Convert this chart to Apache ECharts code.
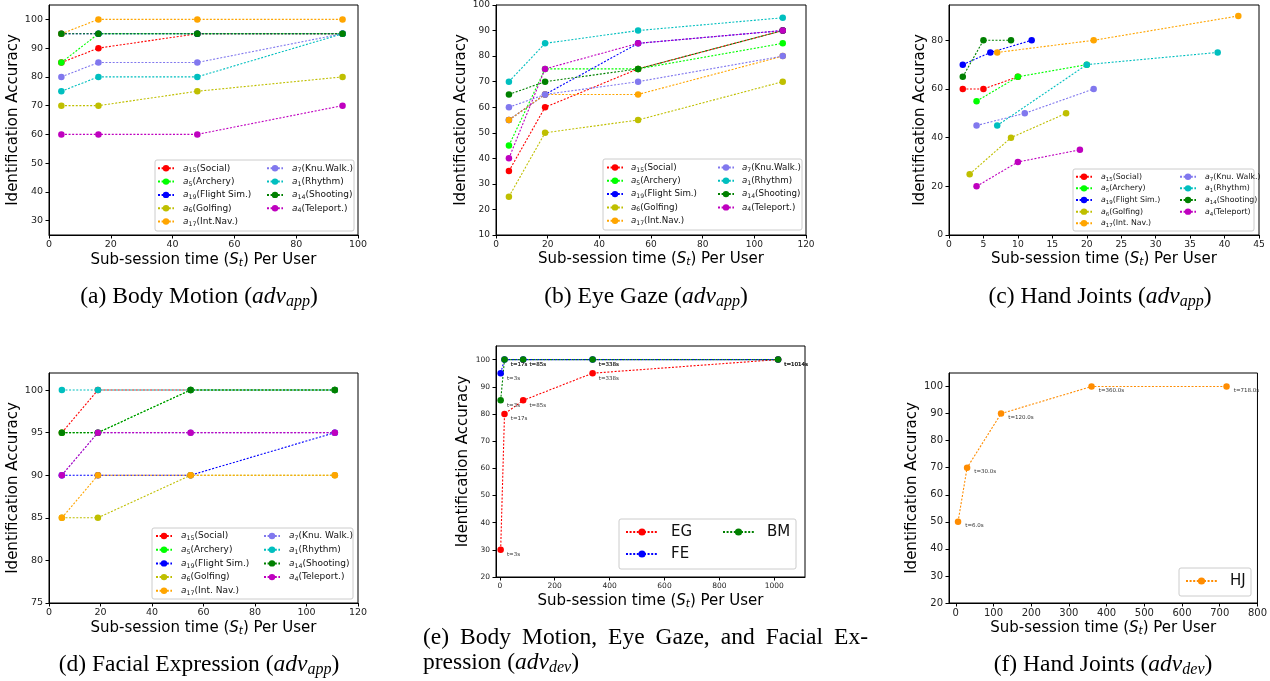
<!DOCTYPE html>
<html><head><meta charset="utf-8">
<script src="https://cdn.jsdelivr.net/npm/echarts@6/dist/echarts.min.js"></script>
<style>html,body{margin:0;padding:0;background:#fff}#c{width:1270px;height:681px}</style>
</head><body><div id="c"></div>
<script>
// ---------------- DATA ----------------
const actKeys   = ['15','5','19','6','17','7','1','14','4'];
const actNamesA = ['Social','Archery','Flight Sim.','Golfing','Int.Nav.','Knu.Walk.','Rhythm','Shooting','Teleport.'];
const actNamesC = ['Social','Archery','Flight Sim.','Golfing','Int. Nav.','Knu. Walk.','Rhythm','Shooting','Teleport'];
const actNamesD = ['Social','Archery','Flight Sim.','Golfing','Int. Nav.','Knu. Walk.','Rhythm','Shooting','Teleport.'];
const actColors = ['#ff0000','#00ff00','#0000ff','#bfbf00','#ffa500','#8178ee','#00bfbf','#008000','#bf00bf'];

// (a) Body Motion, adv_app
const bmTimes = [4, 16, 48, 95];
const bmAcc = [
  [85, 90, 95, 95],
  [85, 95, 95, 95],
  [95, 95, 95, 95],
  [70, 70, 75, 80],
  [95, 100, 100, 100],
  [80, 85, 85, 95],
  [75, 80, 80, 95],
  [95, 95, 95, 95],
  [60, 60, 60, 70]
];
// (b) Eye Gaze, adv_app
const egTimes = [5, 19, 55, 111];
const egAcc = [
  [35, 60, 75, 90],
  [45, 75, 75, 85],
  [55, 65, 85, 90],
  [25, 50, 55, 70],
  [55, 65, 65, 80],
  [60, 65, 70, 80],
  [70, 85, 90, 95],
  [65, 70, 75, 90],
  [40, 75, 85, 90]
];
// (c) Hand Joints, adv_app (per-activity times)
const hjTimes = [[2,5,10],[4,10,20],[2,6,12],[3,9,17],[7,21,42],[4,11,21],[7,20,39],[2,5,9],[4,10,19]];
const hjAcc   = [[60,60,65],[55,65,70],[70,75,80],[25,40,50],[75,80,90],[45,50,60],[45,70,75],[65,80,80],[20,30,35]];
// (d) Facial Expression, adv_app
const feTimes = [5, 19, 55, 111];
const feAcc = [
  [95, 100, 100, 100],
  [95, 95, 100, 100],
  [90, 90, 90, 95],
  [85, 85, 90, 90],
  [85, 90, 90, 90],
  [90, 95, 95, 95],
  [100, 100, 100, 100],
  [95, 95, 100, 100],
  [90, 95, 95, 95]
];
// (e) adv_dev: EG, FE, BM
const devNames  = ['EG', 'FE', 'BM'];
const devColors = ['#ff0000', '#0000ff', '#008000'];
const devTimes  = [3, 17, 85, 338, 1014];
const devAcc    = [[30, 80, 85, 95, 100], [95, 100, 100, 100, 100], [85, 100, 100, 100, 100]];
// (f) Hand Joints, adv_dev
const hjDevName  = 'HJ';
const hjDevColor = '#ff8c00';
const hjDevTimes = [6, 30, 120, 360, 718];
const hjDevAcc   = [50, 70, 90, 100, 100];

// tick labels
const ticksAx = [0, 20, 40, 60, 80, 100];
const ticksAy = [30, 40, 50, 60, 70, 80, 90, 100];
const ticksBx = [0, 20, 40, 60, 80, 100, 120];
const ticksBy = [10, 20, 30, 40, 50, 60, 70, 80, 90, 100];
const ticksCx = [0, 5, 10, 15, 20, 25, 30, 35, 40, 45];
const ticksCy = [0, 20, 40, 60, 80];
const ticksDx = [0, 20, 40, 60, 80, 100, 120];
const ticksDy = [75, 80, 85, 90, 95, 100];
const ticksEx = [0, 200, 400, 600, 800, 1000];
const ticksEy = [20, 30, 40, 50, 60, 70, 80, 90, 100];
const ticksFx = [0, 100, 200, 300, 400, 500, 600, 700, 800];
const ticksFy = [20, 30, 40, 50, 60, 70, 80, 90, 100];

// ---------------- BUILD ----------------
const FONT = 'DejaVu Sans';
const SERIF = 'Liberation Serif';
const grids = [
  {left: 49,  top: 5,   width: 309, height: 230},
  {left: 496, top: 5,   width: 310, height: 230},
  {left: 949, top: 5,   width: 310, height: 230},
  {left: 49,  top: 373, width: 309, height: 230},
  {left: 496, top: 346, width: 309, height: 231},
  {left: 949, top: 373, width: 310, height: 230}
];
const ranges = [
  {x: [0, 100], y: [25, 105], xt: ticksAx, yt: ticksAy, fs: 9.5},
  {x: [0, 120], y: [10, 100], xt: ticksBx, yt: ticksBy, fs: 9},
  {x: [0, 45],  y: [0, 94.5], xt: ticksCx, yt: ticksCy, fs: 9.2},
  {x: [0, 120], y: [75, 102], xt: ticksDx, yt: ticksDy, fs: 9.5},
  {x: [-14, 1112], y: [20, 105], xt: ticksEx, yt: ticksEy, fs: 7.5},
  {x: [-18, 800], y: [20, 105], xt: ticksFx, yt: ticksFy, fs: 10}
];
const yNameGaps = [25, 24, 18, 25, 25, 25];
const xNameGaps = [13, 13, 13, 15, 15, 14];

const axisNameStyle = {
  fontFamily: FONT, fontSize: 15, color: '#000', lineHeight: 18,
  rich: {
    i: {fontFamily: FONT, fontSize: 15, fontStyle: 'italic', color: '#000', lineHeight: 18},
    s: {fontFamily: FONT, fontSize: 10.5, fontStyle: 'italic', color: '#000', lineHeight: 11, verticalAlign: 'bottom'}
  }
};
const plain = v => String(v);

const xAxes = [], yAxes = [];
ranges.forEach((r, i) => {
  const common = {
    type: 'value', gridIndex: i, nameLocation: 'middle',
    axisLine: {show: true, onZero: false, lineStyle: {color: '#000', width: 1}},
    splitLine: {show: false}
  };
  xAxes.push(Object.assign({}, common, {
    min: r.x[0], max: r.x[1],
    axisTick: {show: true, length: 3.5, lineStyle: {color: '#000'}, customValues: r.xt},
    axisLabel: {customValues: r.xt, fontSize: r.fs, color: '#222', margin: 5, fontFamily: FONT, formatter: plain},
    name: 'Sub-session time ({i|S}{s|t}) Per User', nameGap: xNameGaps[i], nameTextStyle: axisNameStyle
  }));
  yAxes.push(Object.assign({}, common, {
    min: r.y[0], max: r.y[1],
    axisTick: {show: true, length: 3.5, lineStyle: {color: '#000'}, customValues: r.yt},
    axisLabel: {customValues: r.yt, fontSize: r.fs, color: '#222', margin: 6, fontFamily: FONT, formatter: plain},
    name: 'Identification Accuracy', nameRotate: 90, nameGap: yNameGaps[i],
    nameTextStyle: {fontFamily: FONT, fontSize: 15, color: '#000'}
  }));
});

const series = [];
function addLine(name, color, pts, gi, extra) {
  series.push(Object.assign({
    type: 'line', name: name, xAxisIndex: gi, yAxisIndex: gi, data: pts,
    symbol: 'circle', symbolSize: 6.5, showSymbol: true,
    itemStyle: {color: color}, lineStyle: {color: color, width: 1.1, type: [2, 1.6]},
    emphasis: {disabled: true}, animation: false, z: 2
  }, extra || {}));
}
const nameOf = (k, lbl) => 'a' + k + '(' + lbl + ')';
actKeys.forEach((k, j) => {
  addLine(nameOf(k, actNamesA[j]), actColors[j], bmTimes.map((t, q) => [t, bmAcc[j][q]]), 0);
});
actKeys.forEach((k, j) => {
  addLine(nameOf(k, actNamesA[j]), actColors[j], egTimes.map((t, q) => [t, egAcc[j][q]]), 1);
});
actKeys.forEach((k, j) => {
  addLine(nameOf(k, actNamesC[j]), actColors[j], hjTimes[j].map((t, q) => [t, hjAcc[j][q]]), 2);
});
actKeys.forEach((k, j) => {
  addLine(nameOf(k, actNamesD[j]), actColors[j], feTimes.map((t, q) => [t, feAcc[j][q]]), 3);
});
devNames.forEach((n, j) => {
  addLine(n, devColors[j], devTimes.map((t, q) => [t, devAcc[j][q]]), 4, {
    label: {show: true, position: 'right', distance: 3, offset: [0, 5], fontSize: 5.5, color: '#333',
      fontFamily: FONT, formatter: p => 't=' + p.value[0] + 's'}
  });
});
addLine(hjDevName, hjDevColor, hjDevTimes.map((t, q) => [t, hjDevAcc[q]]), 5, {
  label: {show: true, position: 'right', distance: 4, offset: [0, 4], fontSize: 5.5, color: '#333',
    fontFamily: FONT, formatter: p => 't=' + p.value[0].toFixed(1) + 's'}
});

// ---- legends ----
function legendRich(fs, lh, pad) {
  return {
    fontFamily: FONT, fontSize: fs, color: '#111', lineHeight: lh,
    rich: {
      i: {fontFamily: FONT, fontSize: fs, fontStyle: 'italic', color: '#111', lineHeight: lh, padding: [0, 0, 0, pad]},
      s: {fontFamily: FONT, fontSize: fs * 0.7, color: '#111', lineHeight: fs * 0.55, verticalAlign: 'bottom'},
      n: {fontFamily: FONT, fontSize: fs, color: '#111', lineHeight: lh}
    }
  };
}
const actFmt = name => {
  const m = name.match(/^a(\d+)(.*)$/);
  return '{i|a}{s|' + m[1] + '}{n|' + m[2] + '}';
};
const legends = [];
function actLegends(names, c1, c2, topCenter, fs, lh, gap, pad) {
  const base = {
    orient: 'vertical', padding: 0, itemWidth: 16, itemHeight: 8, itemGap: gap,
    textStyle: legendRich(fs, lh, pad), formatter: actFmt, z: 5
  };
  const all = actKeys.map((k, j) => nameOf(k, names[j]));
  legends.push(Object.assign({}, base, {left: c1, top: topCenter - lh / 2, data: all.slice(0, 5)}));
  legends.push(Object.assign({}, base, {left: c2, top: topCenter - lh / 2, data: all.slice(5)}));
}
actLegends(actNamesA, 157, 266, 168.3, 9, 11, 2.3, 4);
actLegends(actNamesA, 606, 717, 167.5, 8.7, 11, 2.3, 3);
actLegends(actNamesC, 1075, 1179, 176.7, 7.8, 10, 1.65, 4);
actLegends(actNamesD, 155, 263, 536, 9, 11, 2.7, 4);
const bigLegStyle = {
  fontFamily: FONT, fontSize: 15, color: '#111', lineHeight: 18,
  rich: {t: {fontFamily: FONT, fontSize: 15, color: '#111', lineHeight: 18, padding: [0, 0, 0, 8]}}
};
legends.push({orient: 'vertical', padding: 0, itemWidth: 32, itemHeight: 9, itemGap: 4, left: 625, top: 532 - 9,
  textStyle: bigLegStyle, formatter: n => '{t|' + n + '}', data: ['EG', 'FE'], z: 5});
legends.push({orient: 'vertical', padding: 0, itemWidth: 31, itemHeight: 9, itemGap: 4, left: 722, top: 532 - 9,
  textStyle: bigLegStyle, formatter: n => '{t|' + n + '}', data: ['BM'], z: 5});
legends.push({orient: 'vertical', padding: 0, itemWidth: 31, itemHeight: 9, itemGap: 4, left: 1185, top: 581 - 9,
  textStyle: bigLegStyle, formatter: n => '{t|' + n + '}', data: ['HJ'], z: 5});

// legend frames
const legendBoxes = [
  [155, 160, 199, 71], [603, 159, 199, 71], [1073, 169, 181, 62],
  [152, 528, 201, 71], [619, 519, 177, 50], [1179, 568, 72, 28]
];
const graphics = legendBoxes.map(b => ({
  type: 'rect', z: 3, silent: true,
  shape: {x: b[0], y: b[1], width: b[2], height: b[3], r: 2},
  style: {fill: 'rgba(255,255,255,0.8)', stroke: '#cccccc', lineWidth: 1}
}));

// captions
const CAP_FS = 23.5;
const capRich = {
  it:  {fontFamily: SERIF, fontSize: CAP_FS, fontStyle: 'italic', fill: '#000', lineHeight: 26},
  sub: {fontFamily: SERIF, fontSize: 16, fontStyle: 'italic', fill: '#000', lineHeight: 13, verticalAlign: 'bottom'}
};
function caption(text, x, y, align) {
  graphics.push({
    type: 'text', z: 10, silent: true,
    style: {text: text, x: x, y: y, fontFamily: SERIF, fontSize: CAP_FS, fill: '#000', lineHeight: 26,
      align: align || 'center', textAlign: align || 'center', verticalAlign: 'middle', textVerticalAlign: 'middle', rich: capRich}
  });
}
// justified caption line (word by word across a given width)
function justified(line, x0, x1, y) {
  const ctx = document.createElement('canvas').getContext('2d');
  ctx.font = CAP_FS + 'px "' + SERIF + '"';
  const words = line.split(' ');
  const widths = words.map(w => ctx.measureText(w).width);
  const sum = widths.reduce((a, b) => a + b, 0);
  const gap = (x1 - x0 - sum) / (words.length - 1);
  let x = x0;
  words.forEach((w, k) => { caption(w, x, y, 'left'); x += widths[k] + gap; });
}
caption('(a) Body Motion ({it|adv}{sub|app})', 199, 297);
caption('(b) Eye Gaze ({it|adv}{sub|app})', 646, 297);
caption('(c) Hand Joints ({it|adv}{sub|app})', 1100, 297);
caption('(d) Facial Expression ({it|adv}{sub|app})', 199, 665);
justified('(e) Body Motion, Eye Gaze, and Facial Ex-', 423, 868, 638);
caption('pression ({it|adv}{sub|dev})', 423, 663, 'left');
caption('(f) Hand Joints ({it|adv}{sub|dev})', 1103, 665);

const chart = echarts.init(document.getElementById('c'), null, {renderer: 'canvas'});
chart.setOption({
  animation: false,
  backgroundColor: '#ffffff',
  textStyle: {fontFamily: FONT},
  grid: grids.map(g => Object.assign({show: true, borderColor: '#000', borderWidth: 1, backgroundColor: 'transparent'}, g)),
  xAxis: xAxes,
  yAxis: yAxes,
  legend: legends,
  series: series,
  graphic: graphics
});
</script>
</body></html>
